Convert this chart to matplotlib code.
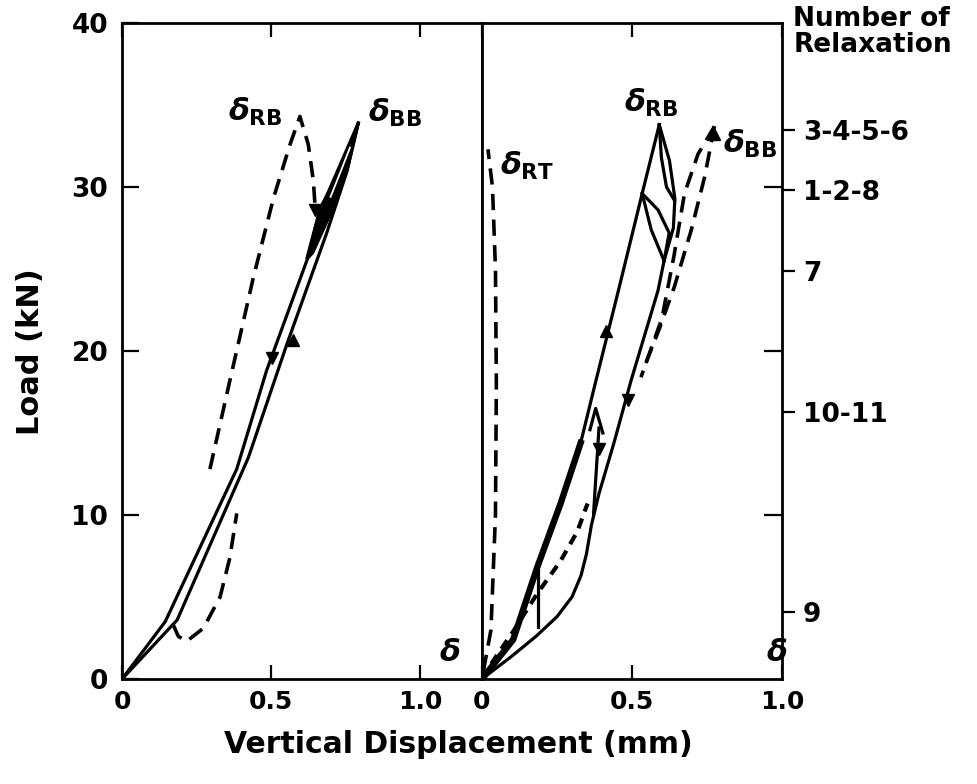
import matplotlib
matplotlib.use("Agg")
import matplotlib.pyplot as plt

# --- data (x in mm, load in kN) ---

# left panel
left_load_x = [0, 0.185, 0.424, 0.553, 0.687, 0.754, 0.793]
left_load_y = [0, 3.6, 13.5, 20.4, 27.2, 30.9, 33.9]
left_unload_x = [0.793, 0.664, 0.62, 0.485, 0.385, 0.145, 0]
left_unload_y = [33.9, 28.5, 25.5, 18.8, 12.8, 3.5, 0]
left_loop_x = [0.793, 0.74, 0.665, 0.62, 0.64, 0.70, 0.755, 0.793]
left_loop_y = [33.9, 31.3, 28.7, 25.6, 26.0, 28.4, 31.0, 33.9]
left_gap_x = [0.70, 0.735, 0.765]
left_gap_y = [29.4, 31.0, 32.4]
left_dash_up_x = [0.295, 0.362, 0.441, 0.508, 0.564, 0.597, 0.625, 0.642, 0.648]
left_dash_up_y = [12.8, 18.2, 24.5, 29.3, 32.6, 34.3, 32.6, 30.4, 28.8]
left_dash_low_x = [0.172, 0.189, 0.217, 0.273, 0.329, 0.362, 0.385]
left_dash_low_y = [3.3, 2.6, 2.3, 3.1, 5.0, 7.4, 10.1]
left_up_arrows = ([0.575], [20.7])
left_down_arrows = ([0.502, 0.648], [19.6, 28.6])

# right panel
right_load_x = [0, 0.104, 0.184, 0.262, 0.329, 0.38, 0.455, 0.534, 0.591]
right_load_y = [0, 2.4, 6.8, 10.7, 14.4, 18.2, 23.7, 29.6, 33.8]
right_unload_x = [0.591, 0.625, 0.643, 0.638, 0.607, 0.587, 0.497, 0.44, 0.39,
                  0.365, 0.348, 0.33, 0.30, 0.25, 0.18, 0.10, 0]
right_unload_y = [33.8, 31.6, 29.3, 27.5, 25.5, 23.7, 18.2, 14.4, 11.3,
                  9.4, 7.6, 6.3, 5.0, 3.8, 2.6, 1.4, 0]
lens_top_x = [0.591, 0.598, 0.615, 0.641]
lens_top_y = [33.8, 31.8, 30.0, 29.2]
lens_a_x = [0.534, 0.564, 0.607]
lens_a_y = [29.6, 27.4, 25.5]
lens_b_x = [0.534, 0.587, 0.624, 0.607]
lens_b_y = [29.6, 28.6, 27.2, 25.5]
relax_a_x = [0.36, 0.379, 0.403]
relax_a_y = [15.2, 16.5, 15.0]
relax_a_down_x = [0.39, 0.372]
relax_a_down_y = [15.3, 10.1]
relax_9_x = [0.188, 0.188]
relax_9_y = [7.1, 3.2]
right_dash_in_x = [0, 0.037, 0.104, 0.184, 0.262, 0.318, 0.352]
right_dash_in_y = [0, 1.1, 2.9, 5.2, 7.2, 9.0, 10.7]
rt_dash_x = [0.005, 0.03, 0.045, 0.048, 0.045, 0.035, 0.02]
rt_dash_y = [0.5, 3.0, 10.0, 18.0, 25.0, 30.0, 32.3]
bb_dash_a_x = [0.775, 0.72, 0.675, 0.64, 0.60, 0.53]
bb_dash_a_y = [33.7, 32.0, 29.6, 25.8, 22.0, 18.4]
bb_dash_b_x = [0.775, 0.742, 0.698, 0.641, 0.59, 0.545]
bb_dash_b_y = [33.7, 30.6, 27.4, 23.9, 21.3, 19.2]
right_up_arrows = ([0.412, 0.772], [21.2, 33.2])
right_down_arrows = ([0.486, 0.39], [17.0, 14.0])

# relaxation levels on the right axis
relax_loads = [33.5, 29.8, 24.9, 16.3, 4.1]
relax_labels = ["3-4-5-6", "1-2-8", "7", "10-11", "9"]

x_ticks = [0, 0.5, 1.0]
x_tick_labels = ["0", "0.5", "1.0"]
y_ticks = [0, 10, 20, 30, 40]

plt.rcParams['font.family'] = ['DejaVu Sans']
plt.rcParams['font.weight'] = 'bold'
plt.rcParams['mathtext.fontset'] = 'dejavusans'

fig = plt.figure(figsize=(9.77, 7.84), dpi=100)
ax_l = fig.add_axes([0.1249, 0.1339, 0.3684, 0.8368])
ax_r = fig.add_axes([0.4933, 0.1339, 0.3071, 0.8368])

LW = 2.3
DASH = (0, (4.5, 2.6))

for ax in (ax_l, ax_r):
    ax.set_ylim(0, 40)
    for s in ax.spines.values():
        s.set_linewidth(2.0)
    ax.set_xticks(x_ticks)
    ax.set_xticklabels(x_tick_labels, fontsize=18, fontweight='bold')
    ax.tick_params(axis='x', direction='in', top=True, length=10, width=1.6, pad=8)

ax_l.set_xlim(0, 1.208)
ax_r.set_xlim(0, 1.0)

# left panel y axis
ax_l.set_yticks(y_ticks)
ax_l.set_yticklabels([str(v) for v in y_ticks], fontsize=19, fontweight='bold')
ax_l.tick_params(axis='y', direction='in', length=12, width=1.6, pad=10, right=False)

# right panel y axis: inner ticks + relaxation ticks outside
ax_r.set_yticks([10, 20, 30])
ax_r.set_yticks(relax_loads, minor=True)
ax_r.set_yticklabels(relax_labels, minor=True, fontsize=19, fontweight='bold')
ax_r.tick_params(axis='y', which='both', left=False, labelleft=False)
ax_r.tick_params(axis='y', which='major', right=True, direction='in', length=13,
                 width=1.6, labelright=False)
ax_r.tick_params(axis='y', which='minor', right=True, direction='out', length=9,
                 width=1.6, labelright=True, pad=6)

# --- left panel curves ---
ax_l.plot(left_load_x, left_load_y, color='black', lw=LW)
ax_l.plot(left_unload_x, left_unload_y, color='black', lw=LW)
ax_l.fill(left_loop_x, left_loop_y, color='black', lw=LW)
ax_l.plot(left_gap_x, left_gap_y, color='white', lw=1.3)
ax_l.plot(left_dash_up_x, left_dash_up_y, color='black', lw=2.6, ls=DASH)
ax_l.plot(left_dash_low_x, left_dash_low_y, color='black', lw=2.6, ls=DASH)
ax_l.plot(*left_up_arrows, ls='none', marker='^', ms=9, color='black')
ax_l.plot(*left_down_arrows, ls='none', marker='v', ms=9, color='black')

# --- right panel curves ---
ax_r.plot(right_load_x, right_load_y, color='black', lw=LW)
ax_r.plot(right_load_x[:5], right_load_y[:5], color='black', lw=LW * 2)
ax_r.plot(right_unload_x, right_unload_y, color='black', lw=LW)
ax_r.plot(lens_top_x, lens_top_y, color='black', lw=LW)
ax_r.plot(lens_a_x, lens_a_y, color='black', lw=LW)
ax_r.plot(lens_b_x, lens_b_y, color='black', lw=LW)
ax_r.plot(relax_a_x, relax_a_y, color='black', lw=LW)
ax_r.plot(relax_a_down_x, relax_a_down_y, color='black', lw=LW)
ax_r.plot(relax_9_x, relax_9_y, color='black', lw=LW)
ax_r.plot(right_dash_in_x, right_dash_in_y, color='black', lw=3.0, ls=(0, (2.5, 1.8)))
ax_r.plot(rt_dash_x, rt_dash_y, color='black', lw=2.6, ls=DASH)
ax_r.plot(bb_dash_a_x, bb_dash_a_y, color='black', lw=2.6, ls=DASH)
ax_r.plot(bb_dash_b_x, bb_dash_b_y, color='black', lw=2.6, ls=DASH)
ax_r.plot(*right_up_arrows, ls='none', marker='^', ms=9, color='black')
ax_r.plot(*right_down_arrows, ls='none', marker='v', ms=9, color='black')

# --- labels ---
lab = dict(fontsize=22, ha='center', va='center', color='black')
ax_l.text(0.446, 34.6, r'$\delta_{\mathbf{RB}}$', **lab)
ax_l.text(0.916, 34.5, r'$\delta_{\mathbf{BB}}$', **lab)
ax_l.text(1.10, 1.6, r'$\delta$', **lab)
ax_r.text(0.151, 31.3, r'$\delta_{\mathbf{RT}}$', **lab)
ax_r.text(0.564, 35.1, r'$\delta_{\mathbf{RB}}$', **lab)
ax_r.text(0.893, 32.6, r'$\delta_{\mathbf{BB}}$', **lab)
ax_r.text(0.983, 1.6, r'$\delta$', **lab)

fig.text(0.031, 0.551, 'Load (kN)', rotation=90, ha='center', va='center',
         fontsize=22, fontweight='bold')
fig.text(0.469, 0.05, 'Vertical Displacement (mm)', ha='center', va='center',
         fontsize=21.5, fontweight='bold')
fig.text(0.812, 0.992, 'Number of\nRelaxation', ha='left', va='top',
         fontsize=19, fontweight='bold', linespacing=1.0)

fig.savefig('out.png', dpi=100, facecolor='white')
